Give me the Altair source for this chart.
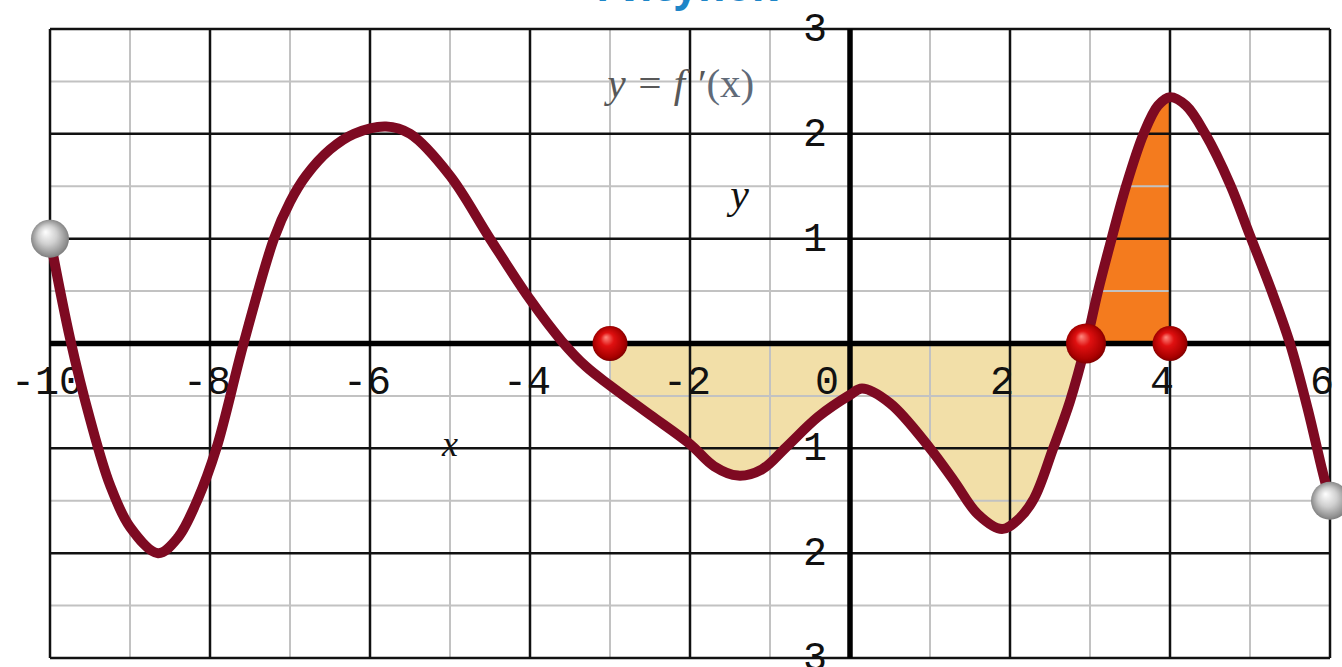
import altair as alt
import pandas as pd

# Graph of y = f'(x) on [-10, 6], sampled along the drawn curve
curve_x = [-10.0, -9.75, -9.5, -9.25, -9.0, -8.65, -8.4, -8.15, -7.92, -7.58,
           -7.2, -7.0, -6.8, -6.5, -6.2, -5.8, -5.5, -5.0, -4.5, -4.0, -3.6,
           -3.3, -3.0, -2.5, -2.0, -1.7, -1.4, -1.1, -0.8, -0.4, 0.0, 0.15, 0.5,
           1.0, 1.3, 1.6, 1.9, 2.1, 2.3, 2.54, 2.75, 2.95, 3.1, 3.27, 3.45, 3.67,
           3.85, 4.0, 4.2, 4.44, 4.75, 5.0, 5.27, 5.5, 5.72, 5.9, 6.0]
curve_y = [1.0, 0.05, -0.72, -1.35, -1.75, -2.0, -1.85, -1.48, -1.0, 0.0,
           1.0, 1.35, 1.6, 1.85, 2.0, 2.07, 2.0, 1.6, 1.0, 0.42, 0.02,
           -0.22, -0.4, -0.68, -0.96, -1.17, -1.26, -1.2, -0.99, -0.7, -0.49,
           -0.43, -0.57, -1.0, -1.31, -1.63, -1.77, -1.68, -1.48, -1.0, -0.55,
           0.0, 0.5, 1.0, 1.5, 2.0, 2.27, 2.35, 2.27, 2.0, 1.52, 1.03, 0.5, 0.0,
           -0.62, -1.2, -1.5]

# Shaded intervals
beige_from, beige_to = -3.0, 2.95
orange_from, orange_to = 2.95, 4.0

# Marked points
red_x = [-3.0, 2.95, 4.0]
red_y = [0.0, 0.0, 0.0]
red_size = [1225, 1600, 1225]
end_x = [-10.0, 6.0]
end_y = [1.0, -1.5]

# Grid and tick labels
major_x = [-10, -8, -6, -4, -2, 2, 4, 6]
minor_x = [-9, -7, -5, -3, -1, 1, 3, 5]
major_y = [-3, -2, -1, 1, 2, 3]
minor_y = [-2.5, -1.5, -0.5, 0.5, 1.5, 2.5]
x_ticks = [-10, -8, -6, -4, -2, 0, 2, 4, 6]
x_tick_text = ["-10", "-8", "-6", "-4", "-2", "0", "2", "4", "6"]
y_ticks = [3, 2, 1, -1, -2, -3]
y_tick_text = ["3", "2", "1", "1", "2", "3"]

# Free-standing captions: text, x, y
captions = {
    "formula": ("y = f ′", -1.82, 2.47),
    "formula_arg": ("(x)", -1.82, 2.47),
    "y_name": ("y", -1.38, 1.42),
    "x_name": ("x", -5.0, -0.97),
    "heading": ("Рисунок", -2.04, 3.265),
}

xs = alt.Scale(domain=[-10, 6], nice=False, zero=False)
ys = alt.Scale(domain=[-3, 3], nice=False, zero=False)

curve = pd.DataFrame({"x": curve_x, "y": curve_y})
X = alt.X("x:Q", scale=xs, axis=None)
Y = alt.Y("y:Q", scale=ys, axis=None)
smooth = "catmull-rom"

beige = alt.Chart(curve).mark_area(
    color="#F2DFA8", interpolate=smooth, opacity=1
).encode(x=X, y=Y, y2=alt.datum(0)).transform_filter(
    (alt.datum.x >= beige_from) & (alt.datum.x <= beige_to)
)
orange = alt.Chart(curve).mark_area(
    color="#F47B1E", interpolate=smooth, opacity=1
).encode(x=X, y=Y, y2=alt.datum(0)).transform_filter(
    (alt.datum.x >= orange_from) & (alt.datum.x <= orange_to)
)


def vrules(vals, color, width):
    return alt.Chart(pd.DataFrame({"v": vals})).mark_rule(
        color=color, strokeWidth=width
    ).encode(x=alt.X("v:Q", scale=xs, axis=None))


def hrules(vals, color, width):
    return alt.Chart(pd.DataFrame({"v": vals})).mark_rule(
        color=color, strokeWidth=width
    ).encode(y=alt.Y("v:Q", scale=ys, axis=None))


minor_grid = vrules(minor_x, "#C2C2C2", 2) + hrules(minor_y, "#C2C2C2", 2)
major_grid = vrules(major_x, "#111111", 2.5) + hrules(major_y, "#111111", 2.5)
axes = vrules([0], "#000000", 5.5) + hrules([0], "#000000", 5.5)

xt = pd.DataFrame({"v": x_ticks, "t": x_tick_text})
xlab_base = alt.Chart(xt).encode(
    x=alt.X("v:Q", scale=xs, axis=None),
    y=alt.Y("ty:Q", scale=ys, axis=None),
    text="t:N",
).transform_calculate(ty="-0.37")
label_style = dict(font="Liberation Mono", fontSize=40, color="#111111",
                   baseline="middle", align="center")
xlab = (
    xlab_base.mark_text(dx=-3, **label_style).transform_filter(alt.datum.v < 0)
    + xlab_base.mark_text(dx=-23, **label_style).transform_filter(alt.datum.v == 0)
    + xlab_base.mark_text(dx=-8, **label_style).transform_filter(alt.datum.v > 0)
)

yt = pd.DataFrame({"v": y_ticks, "t": y_tick_text})
ylab = alt.Chart(yt).mark_text(dx=-35, **label_style).encode(
    x=alt.X("tx:Q", scale=xs, axis=None),
    y=alt.Y("v:Q", scale=ys, axis=None),
    text="t:N",
).transform_calculate(tx="0")


def caption(key, **style):
    t, cx, cy = captions[key]
    df = pd.DataFrame({"t": [t], "x": [cx], "y": [cy]})
    return alt.Chart(df).mark_text(**style).encode(x=X, y=Y, text="t:N")


serif = "Liberation Serif"
fx_a = caption("formula", font=serif, fontSize=41, fontStyle="italic",
               color="#585858", align="right", baseline="middle")
fx_b = caption("formula_arg", font=serif, fontSize=41, color="#606a78",
               align="left", baseline="middle", dx=2)
ylabel = caption("y_name", font=serif, fontSize=42, fontStyle="italic",
                 color="#111111", align="center", baseline="middle")
xlabel = caption("x_name", font=serif, fontSize=36, fontStyle="italic",
                 color="#111111", align="center", baseline="middle")
heading = caption("heading", font="Open Sans", fontSize=42, fontWeight="bold",
                  color="#1E86C8", align="center", baseline="alphabetic")

line = alt.Chart(curve).mark_line(
    color="#7E0A22", strokeWidth=10, interpolate=smooth,
    strokeCap="round", strokeJoin="round"
).encode(x=X, y=Y)

red_fill = alt.RadialGradient(
    gradient="radial", x1=0.38, y1=0.32, r1=0.0, x2=0.5, y2=0.5, r2=0.55,
    stops=[alt.GradientStop(offset=0, color="#FF8A80"),
           alt.GradientStop(offset=0.35, color="#E01010"),
           alt.GradientStop(offset=0.8, color="#A80000"),
           alt.GradientStop(offset=1, color="#6A0000")],
)
gray_fill = alt.RadialGradient(
    gradient="radial", x1=0.38, y1=0.32, r1=0.0, x2=0.5, y2=0.5, r2=0.55,
    stops=[alt.GradientStop(offset=0, color="#FFFFFF"),
           alt.GradientStop(offset=0.45, color="#D0D0D0"),
           alt.GradientStop(offset=0.85, color="#8E8E8E"),
           alt.GradientStop(offset=1, color="#6E6E6E")],
)

red_balls = alt.Chart(
    pd.DataFrame({"x": red_x, "y": red_y, "s": red_size})
).mark_point(shape="circle", filled=True, fill=red_fill, opacity=1,
             strokeWidth=0).encode(
    x=X, y=Y, size=alt.Size("s:Q", scale=None, legend=None)
)
end_balls = alt.Chart(
    pd.DataFrame({"x": end_x, "y": end_y})
).mark_point(shape="circle", filled=True, fill=gray_fill, opacity=1,
             strokeWidth=0, size=1444).encode(x=X, y=Y)

chart = alt.layer(
    beige, orange, minor_grid, major_grid, axes,
    xlab, ylab, fx_a, fx_b, ylabel, xlabel, heading,
    line, red_balls, end_balls,
).properties(
    width=1280, height=629,
    padding={"left": 50, "top": 29, "right": 12, "bottom": 9},
    autosize=alt.AutoSizeParams(type="none"),
    background="#FFFFFF",
).configure_view(stroke=None)

chart.save("out.html", embed_options={"renderer": "svg", "actions": False})
